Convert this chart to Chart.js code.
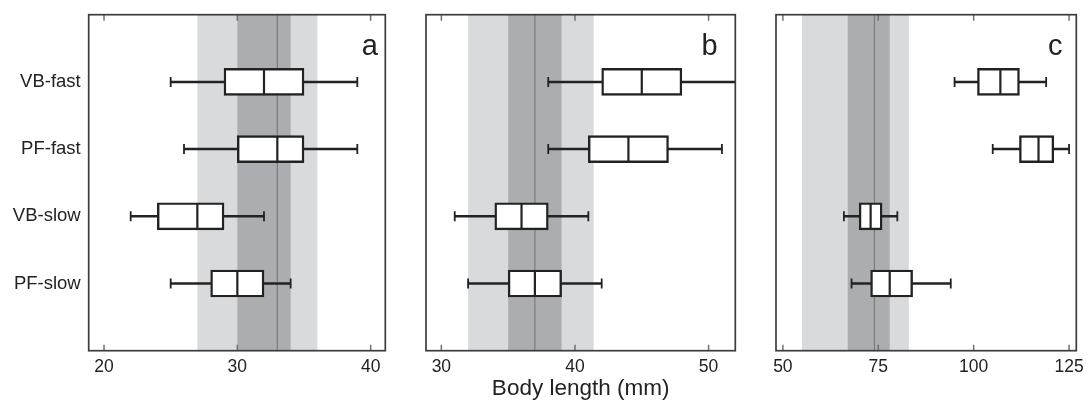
<!DOCTYPE html>
<html>
<head>
<meta charset="UTF-8">
<title>Body length box plots</title>
<script src="https://cdn.jsdelivr.net/npm/chart.js"></script>
<style>
  body { margin: 0; background: #fff; }
  #wrap { position: relative; width: 1091px; height: 400px; }
  canvas { position: absolute; top: 0; }
</style>
</head>
<body>
<div id="wrap">
  <canvas id="panelA" width="400" height="400" style="left:0px"></canvas>
  <canvas id="panelB" width="340" height="400" style="left:410px"></canvas>
  <canvas id="panelC" width="331" height="400" style="left:760px"></canvas>
</div>
<script>
  const categories = ['VB-fast', 'PF-fast', 'VB-slow', 'PF-slow'];

  // panel a
  const aMin = [25, 26, 22, 25];
  const aQ1  = [29, 30, 24, 28];
  const aMed = [32, 33, 27, 30];
  const aQ3  = [35, 35, 29, 32];
  const aMax = [39, 39, 32, 34];
  const aLight = [27, 36];
  const aDark  = [30, 34];
  const aRef   = 33;
  const aTicks = [20, 30, 40];

  // panel b
  const bMin = [38, 38, 31, 32];
  const bQ1  = [42, 41, 34, 35];
  const bMed = [45, 44, 36, 37];
  const bQ3  = [48, 47, 38, 39];
  const bMax = [53, 51, 41, 42];
  const bLight = [32, 41.4];
  const bDark  = [35, 39];
  const bRef   = 37;
  const bTicks = [30, 40, 50];

  // panel c
  const cMin = [95, 105, 66, 68];
  const cQ1  = [101, 112, 70, 73];
  const cMed = [107, 117, 73, 78];
  const cQ3  = [112, 121, 76, 84];
  const cMax = [119, 125, 80, 94];
  const cLight = [55, 83];
  const cDark  = [67, 78];
  const cRef   = 74;
  const cTicks = [50, 75, 100, 125];

  Chart.defaults.font.family = '"Liberation Sans", Arial, sans-serif';
  Chart.defaults.color = '#222';

  const panelDecor = {
    id: 'panelDecor',
    beforeDatasetsDraw(chart, args, o) {
      const { ctx, chartArea: ca, scales: { x } } = chart;
      const h = ca.bottom - ca.top;
      ctx.save();
      ctx.fillStyle = '#d9dadc';
      let l = x.getPixelForValue(o.light[0]);
      ctx.fillRect(l, ca.top, x.getPixelForValue(o.light[1]) - l, h);
      ctx.fillStyle = '#acadb0';
      l = x.getPixelForValue(o.dark[0]);
      ctx.fillRect(l, ca.top, x.getPixelForValue(o.dark[1]) - l, h);
      const r = x.getPixelForValue(o.ref);
      ctx.strokeStyle = '#7b7c7f';
      ctx.lineWidth = 1.2;
      ctx.beginPath();
      ctx.moveTo(r, ca.top);
      ctx.lineTo(r, ca.bottom);
      ctx.stroke();
      ctx.restore();
    },
    afterDraw(chart, args, o) {
      const { ctx, chartArea: ca, scales: { x } } = chart;
      ctx.save();
      ctx.strokeStyle = '#707070';
      ctx.lineWidth = 1.5;
      o.ticks.forEach(v => {
        const px = x.getPixelForValue(v);
        ctx.beginPath();
        ctx.moveTo(px, ca.bottom);
        ctx.lineTo(px, ca.bottom - 6);
        ctx.moveTo(px, ca.top);
        ctx.lineTo(px, ca.top + 6);
        ctx.stroke();
      });
      ctx.strokeStyle = '#3c3c3c';
      ctx.lineWidth = 1.7;
      ctx.strokeRect(ca.left, ca.top, ca.right - ca.left, ca.bottom - ca.top);
      ctx.fillStyle = '#222';
      ctx.font = '29px "Liberation Sans", Arial, sans-serif';
      ctx.textAlign = 'center';
      ctx.textBaseline = 'alphabetic';
      ctx.fillText(o.letter, ca.right - o.letterOffset, ca.top + 40.4);
      ctx.restore();
    }
  };

  function makePanel(id, mins, q1s, meds, q3s, maxs, light, dark, ref, ticks, range, pad, letter, letterOffset, showLabels, title) {
    const whiskers = categories.map((c, i) => ({ x: [mins[i], maxs[i]], y: c }));
    const boxes = categories.map((c, i) => ({ x: [q1s[i], q3s[i]], y: c }));
    const medians = categories.map((c, i) => ({ x: meds[i], y: c }));
    const caps = [];
    categories.forEach((c, i) => {
      caps.push({ x: mins[i], y: c });
      caps.push({ x: maxs[i], y: c });
    });

    return new Chart(document.getElementById(id), {
      type: 'bar',
      data: {
        labels: ['', ...categories, ''],
        datasets: [
          {
            type: 'scatter', data: medians, order: 1,
            pointStyle: 'line', rotation: 90, radius: 12.5,
            borderColor: '#222', borderWidth: 2.2
          },
          {
            type: 'scatter', data: caps, order: 2,
            pointStyle: 'line', rotation: 90, radius: 5,
            borderColor: '#222', borderWidth: 1.8
          },
          {
            data: boxes, order: 3, grouped: false,
            barThickness: 27, backgroundColor: '#fff',
            borderColor: '#222', borderWidth: 2.4, borderSkipped: false
          },
          {
            data: whiskers, order: 4, grouped: false,
            barThickness: 1.8, backgroundColor: '#222', borderWidth: 0
          }
        ]
      },
      options: {
        indexAxis: 'y',
        responsive: false,
        animation: false,
        events: [],
        layout: { padding: pad },
        plugins: {
          legend: { display: false },
          tooltip: { enabled: false },
          panelDecor: { light: light, dark: dark, ref: ref, ticks: ticks, letter: letter, letterOffset: letterOffset }
        },
        scales: {
          x: {
            type: 'linear',
            min: range[0],
            max: range[1],
            grid: { display: false, drawTicks: false },
            border: { display: false },
            afterBuildTicks: s => { s.ticks = ticks.map(v => ({ value: v })); },
            afterFit: s => { s.height = 49.3; s.paddingLeft = 0; s.paddingRight = 0; },
            ticks: { font: { size: 17.5 }, color: '#222', padding: 6, maxRotation: 0 },
            title: {
              display: !!title,
              text: title || '',
              font: { size: 22.5, lineHeight: 1 },
              color: '#222',
              padding: { top: 0, bottom: 0 }
            }
          },
          y: {
            type: 'category',
            offset: false,
            display: showLabels,
            grid: { display: false, drawTicks: false },
            border: { display: false },
            afterFit: s => {
              if (showLabels) s.width = 88.7;
              s.paddingTop = 0; s.paddingBottom = 0;
            },
            ticks: { autoSkip: false, font: { size: 18.5 }, color: '#222', padding: 8 }
          }
        }
      },
      plugins: [panelDecor]
    });
  }

  makePanel('panelA', aMin, aQ1, aMed, aQ3, aMax, aLight, aDark, aRef, aTicks,
    [18.85, 41.1], { top: 12.3, right: 9.3, left: 0, bottom: 0 }, 'a', 15.4, true, '');
  makePanel('panelB', bMin, bQ1, bMed, bQ3, bMax, bLight, bDark, bRef, bTicks,
    [28.85, 52], { top: 12.3, right: 10, left: 16, bottom: 0 }, 'b', 25.8, false, 'Body length (mm)');
  makePanel('panelC', cMin, cQ1, cMed, cQ3, cMax, cLight, cDark, cRef, cTicks,
    [48.2, 126.9], { top: 12.3, right: 13.3, left: 16, bottom: 0 }, 'c', 21, false, '');
</script>
</body>
</html>
